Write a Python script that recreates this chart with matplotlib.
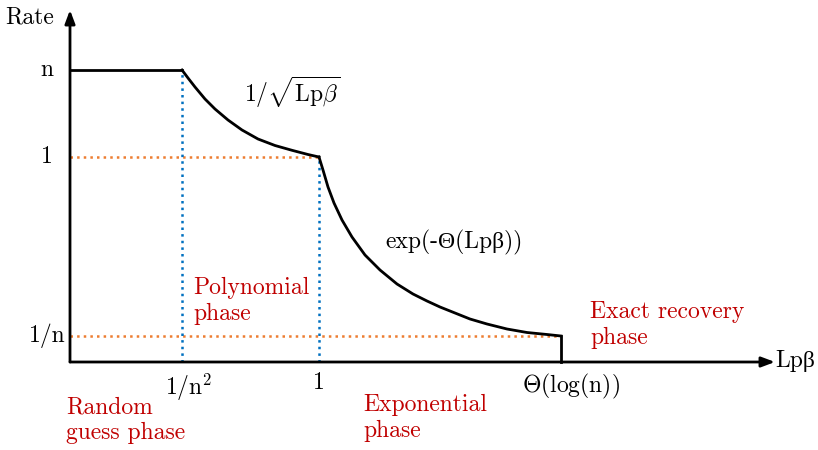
import matplotlib
matplotlib.use("Agg")
import matplotlib.pyplot as plt

plt.rcParams['font.family'] = ['cmr10', 'Liberation Serif', 'DejaVu Serif']
plt.rcParams['mathtext.fontset'] = 'cm'
plt.rcParams['axes.formatter.use_mathtext'] = True

# break points on the Lp-beta axis and the rate levels (schematic units)
x_breaks = [1.12, 2.49, 4.91]
x_tick_labels = [r'$1/\mathrm{n}^2$', '1', r'$\Theta(\mathrm{log(n)})$']
levels = [0.26, 2.05, 2.92]
level_labels = ['1/n', '1', 'n']

# curve
poly_x = [1.12, 1.18, 1.25, 1.35, 1.45, 1.58, 1.72, 1.88, 2.05, 2.22, 2.38, 2.49]
poly_y = [2.92, 2.84, 2.75, 2.63, 2.53, 2.42, 2.32, 2.23, 2.165, 2.117, 2.075, 2.05]
exp_x = [2.49, 2.53, 2.58, 2.64, 2.72, 2.82, 2.95, 3.10, 3.27, 3.43, 3.57, 3.70,
         3.85, 4.00, 4.17, 4.37, 4.57, 4.77, 4.91]
exp_y = [2.05, 1.92, 1.75, 1.59, 1.42, 1.25, 1.07, 0.92, 0.78, 0.68, 0.61, 0.55,
         0.49, 0.43, 0.38, 0.33, 0.295, 0.275, 0.26]

red = '#C00000'
orange = '#ED7D31'
blue = '#0070C0'
fs = 17

fig = plt.figure(figsize=(8.18, 4.5), dpi=100)
ax = fig.add_axes([0, 0, 1, 1])
ax.set_xlim(-0.70, 7.48)
ax.set_ylim(-0.88, 3.62)
ax.axis('off')

# axes with arrows
arrow = dict(arrowstyle='-|>,head_length=0.8,head_width=0.3', color='black', lw=2, shrinkA=0, shrinkB=0)
ax.annotate('', xy=(7.05, 0), xytext=(0, 0), arrowprops=arrow)
ax.annotate('', xy=(0, 3.52), xytext=(0, 0), arrowprops=arrow)

# dotted guides
ax.plot([0, x_breaks[1]], [levels[1], levels[1]], ls=':', color=orange, lw=1.8)
ax.plot([0, x_breaks[2]], [levels[0], levels[0]], ls=':', color=orange, lw=1.8)
ax.plot([x_breaks[0], x_breaks[0]], [0, levels[2]], ls=':', color=blue, lw=1.8)
ax.plot([x_breaks[1], x_breaks[1]], [0, levels[1]], ls=':', color=blue, lw=1.8)

# rate curve
ax.plot([0, x_breaks[0]], [levels[2], levels[2]], color='black', lw=2)
ax.plot(poly_x, poly_y, color='black', lw=2, solid_joinstyle='round')
ax.plot(exp_x, exp_y, color='black', lw=2, solid_joinstyle='round')
ax.plot([x_breaks[2], x_breaks[2]], [exp_y[-1], 0], color='black', lw=2)

# tick labels
offsets = [0.07, 0, 0.10]
for xv, off, lab in zip(x_breaks, offsets, x_tick_labels):
    ax.text(xv + off, -0.10, lab, ha='center', va='top', fontsize=fs)
for yv, lab in zip(levels, level_labels):
    ax.text(-0.23, yv, lab, ha='center', va='center', fontsize=fs)

ax.text(-0.40, 3.45, 'Rate', ha='center', va='center', fontsize=fs)
ax.text(7.05, 0.01, 'Lpβ', ha='left', va='center', fontsize=fs)
ax.text(1.74, 2.70, r'$1/\sqrt{\mathrm{Lp\beta}}$', ha='left', va='center', fontsize=fs)
ax.text(3.15, 1.20, 'exp(-Θ(Lpβ))', ha='left', va='center', fontsize=fs)

# phase labels
red_kw = dict(color=red, fontsize=fs, ha='left', va='top', linespacing=1.2)
ax.text(1.23, 0.85, 'Polynomial\nphase', **red_kw)
ax.text(-0.04, -0.34, 'Random\nguess phase', **red_kw)
ax.text(2.93, -0.32, 'Exponential\nphase', **red_kw)
ax.text(5.20, 0.61, 'Exact recovery\nphase', **red_kw)

fig.savefig('out.png', dpi=100)
